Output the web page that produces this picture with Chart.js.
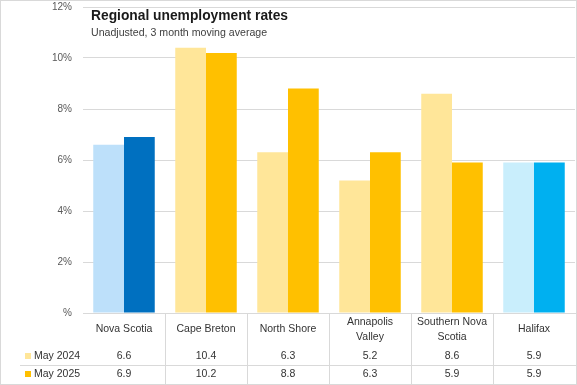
<!DOCTYPE html>
<html>
<head>
<meta charset="utf-8">
<script src="https://cdn.jsdelivr.net/npm/chart.js@4"></script>
<style>
  html, body { margin: 0; padding: 0; background: #fff; }
  #wrap { width: 577px; height: 385px; }
</style>
</head>
<body>
<div id="wrap"><canvas id="js-chart-unemp" width="577" height="385"></canvas></div>
<script>
// data
const regions = [['Nova Scotia'], ['Cape Breton'], ['North Shore'], ['Annapolis', 'Valley'], ['Southern Nova', 'Scotia'], ['Halifax']];
const seriesNames = ['May 2024', 'May 2025'];
const may2024 = [6.6, 10.4, 6.3, 5.2, 8.6, 5.9];
const may2025 = [6.9, 10.2, 8.8, 6.3, 5.9, 5.9];
const yMax = 12;
const yStep = 2;

const lightCols = ['#BDE0FA', '#FFE699', '#FFE699', '#FFE699', '#FFE699', '#C9EEFC'];
const darkCols = ['#0070C0', '#FFC000', '#FFC000', '#FFC000', '#FFC000', '#00B0F0'];
const legendCols = ['#FFE699', '#FFC000'];

const FONT = '"Liberation Sans", Arial, sans-serif';
const TXT = '#333333';

// title, subtitle, frame and data table under the bars
const overlay = {
    id: 'overlay',
    beforeDraw(chart) {
        const c = chart.ctx;
        c.save();
        c.fillStyle = '#fff';
        c.fillRect(0, 0, chart.width, chart.height);
        c.restore();
    },
    afterDraw(chart) {
        const c = chart.ctx, x = chart.scales.x, area = chart.chartArea;
        c.save();

        c.fillStyle = '#1a1a1a';
        c.textBaseline = 'middle';
        c.textAlign = 'left';
        c.font = 'bold 13.8px ' + FONT;
        c.fillText('Regional unemployment rates', 91, 16);
        c.fillStyle = '#404040';
        c.font = '10.6px ' + FONT;
        c.fillText('Unadjusted, 3 month moving average', 91, 33);

        // table grid
        c.strokeStyle = '#d9d9d9';
        c.lineWidth = 1;
        c.beginPath();
        c.moveTo(area.left, 313.5); c.lineTo(576, 313.5);
        c.moveTo(20, 365.5); c.lineTo(576, 365.5);
        const step = (area.right - area.left) / regions.length;
        for (let i = 1; i < regions.length; i++) {
            const bx = Math.round(area.left + step * i) + 0.5;
            c.moveTo(bx, 313); c.lineTo(bx, 384);
        }
        c.stroke();

        // category labels + values
        c.fillStyle = TXT;
        c.textAlign = 'center';
        c.font = '10.5px ' + FONT;
        regions.forEach((lab, i) => {
            const cx = x.getPixelForValue(i);
            if (lab.length === 1) {
                c.fillText(lab[0], cx, 329);
            } else {
                c.fillText(lab[0], cx, 322);
                c.fillText(lab[1], cx, 337);
            }
            c.fillText(may2024[i].toFixed(1), cx, 356);
            c.fillText(may2025[i].toFixed(1), cx, 374);
        });

        // row legend
        c.textAlign = 'left';
        [356, 374].forEach((ry, k) => {
            c.fillStyle = legendCols[k];
            c.fillRect(25, ry - 3, 6, 6);
            c.fillStyle = TXT;
            c.fillText(seriesNames[k], 34, ry);
        });

        // outer frame
        c.strokeStyle = '#d9d9d9';
        c.strokeRect(0.5, 0.5, chart.width - 1, chart.height - 1);
        c.restore();
    }
};

new Chart(document.getElementById('js-chart-unemp'), {
    type: 'bar',
    data: {
        labels: regions.map(r => r.join(' ')),
        datasets: [{
            label: seriesNames[0],
            data: may2024,
            backgroundColor: lightCols,
            borderWidth: 0
        }, {
            label: seriesNames[1],
            data: may2025,
            backgroundColor: darkCols,
            borderWidth: 0
        }]
    },
    options: {
        responsive: false,
        animation: false,
        events: [],
        layout: { padding: { top: 7, right: 2, left: 0, bottom: 0 } },
        datasets: { bar: { categoryPercentage: 0.75, barPercentage: 1.0 } },
        plugins: { legend: { display: false }, tooltip: { enabled: false }, title: { display: false } },
        scales: {
            x: {
                grid: { display: false },
                border: { display: false },
                ticks: { display: false },
                afterFit(s) { s.height = 72; }
            },
            y: {
                min: 0,
                max: yMax,
                border: { display: false },
                grid: { color: '#d9d9d9', drawTicks: false },
                ticks: {
                    stepSize: yStep,
                    padding: 11,
                    color: '#595959',
                    font: { family: FONT, size: 10 },
                    callback: v => (v === 0 ? '' : v) + '%'
                },
                afterFit(s) { s.width = 83; s.paddingTop = 0; s.paddingBottom = 0; }
            }
        }
    },
    plugins: [overlay]
});
</script>
</body>
</html>
